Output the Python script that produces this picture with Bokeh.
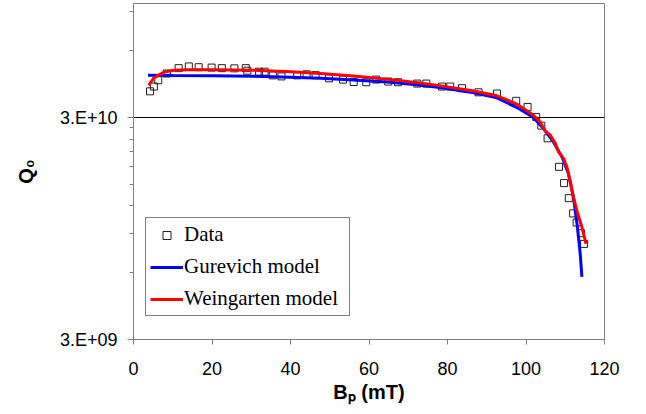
from bokeh.plotting import figure
from bokeh.models import (FixedTicker, CustomJSTickFormatter, Legend,
                          LegendItem, Range1d)
from bokeh.embed import file_html
from bokeh.resources import INLINE

# ---- data (B_p in mT, Q0) ----
bp_data = [4.2, 5.2, 6.3, 8.5, 11.5, 14.1, 16.6, 19.9, 22.5, 25.7, 28.6, 29.0,
           32.0, 33.4, 35.5, 37.7, 41.7, 44.1, 46.4, 49.8, 53.4, 56.1, 59.3,
           61.8, 64.9, 67.4, 72.3, 74.6, 78.6, 80.7, 83.7, 87.9, 92.6, 97.5,
           100.4, 102.6, 103.9, 105.5, 108.4, 109.7, 110.9, 112.0, 112.9,
           114.0, 114.8]
q_data = [3.94e10, 4.14e10, 4.42e10, 4.74e10, 5.01e10, 5.10e10, 5.06e10,
          5.04e10, 5.01e10, 5.00e10, 5.01e10, 4.88e10, 4.83e10, 4.83e10,
          4.65e10, 4.60e10, 4.65e10, 4.70e10, 4.66e10, 4.51e10, 4.45e10,
          4.34e10, 4.33e10, 4.45e10, 4.36e10, 4.33e10, 4.27e10, 4.27e10,
          4.14e10, 4.14e10, 4.07e10, 3.90e10, 3.85e10, 3.57e10, 3.35e10,
          3.02e10, 2.76e10, 2.42e10, 1.80e10, 1.52e10, 1.30e10, 1.11e10,
          1.01e10, 0.904e10, 0.809e10]

bp_gurevich = [3.7, 10, 20, 30.7, 40, 47.7, 56, 64.6, 72, 78, 86.7, 92.6,
               97.7, 101.9, 104.5, 107.0, 109.2, 110.8, 112.1, 113.1, 113.8,
               114.25]
q_gurevich = [4.65e10, 4.64e10, 4.63e10, 4.61e10, 4.56e10, 4.51e10, 4.43e10,
              4.34e10, 4.22e10, 4.10e10, 3.88e10, 3.68e10, 3.33e10, 3.0e10,
              2.67e10, 2.33e10, 1.99e10, 1.68e10, 1.31e10, 0.963e10,
              0.733e10, 0.574e10]

bp_weingarten = [3.9, 5.2, 7.8, 10.3, 13.7, 20, 30.7, 40, 47.7, 56, 64.6, 72,
                 78, 86.7, 92.6, 97.7, 101.9, 103.6, 104.9, 106.2, 107.5,
                 108.3, 109.6, 110.4, 111.3, 112.1, 113.1, 114.25, 115.3]
q_weingarten = [4.19e10, 4.53e10, 4.81e10, 4.90e10, 4.93e10, 4.93e10, 4.90e10,
                4.83e10, 4.74e10, 4.62e10, 4.47e10, 4.32e10, 4.18e10, 3.95e10,
                3.76e10, 3.45e10, 3.07e10, 2.87e10, 2.61e10, 2.50e10, 2.29e10,
                2.10e10, 1.96e10, 1.80e10, 1.54e10, 1.31e10, 1.12e10,
                0.963e10, 0.81e10]

y_major = [3e9, 3e10]
y_minor = [6e9, 9e9, 1.2e10, 1.5e10, 1.8e10, 2.1e10, 2.4e10, 2.7e10, 6e10, 9e10]
x_ticks = [0, 20, 40, 60, 80, 100, 120]

legend_labels = ["Data", "Gurevich model", "Weingarten model"]
x_title = "B\u209a (mT)"
y_title = "Q\u2080"

# ---- figure ----
p = figure(width=640, height=410, x_range=Range1d(0, 120),
           y_range=Range1d(3e9, 9.8e10), y_axis_type="log",
           output_backend="svg", toolbar_location=None,
           min_border_left=133, min_border_right=36, min_border_top=3,
           min_border_bottom=71)
p.outline_line_color = "#808080"
p.outline_line_width = 1
p.background_fill_color = "white"
p.border_fill_color = "white"

p.xgrid.visible = False
p.ygrid.grid_line_color = "black"
p.ygrid.grid_line_width = 1

grey = "#808080"
sans = "Liberation Sans"

p.xaxis.ticker = FixedTicker(ticks=x_ticks)
p.xaxis.axis_line_color = grey
p.xaxis.major_tick_line_color = grey
p.xaxis.major_tick_out = 5
p.xaxis.major_tick_in = 0
p.xaxis.minor_tick_line_color = None
p.xaxis.major_label_text_font = sans
p.xaxis.major_label_text_font_size = "18px"
p.xaxis.major_label_text_color = "black"
p.xaxis.major_label_standoff = 17
p.xaxis.axis_label = x_title
p.xaxis.axis_label_text_font = sans
p.xaxis.axis_label_text_font_style = "bold"
p.xaxis.axis_label_text_font_size = "20px"
p.xaxis.axis_label_text_color = "black"
p.xaxis.axis_label_standoff = 3

p.yaxis.ticker = FixedTicker(ticks=y_major, minor_ticks=y_minor)
p.yaxis.formatter = CustomJSTickFormatter(code="""
const e = Math.floor(Math.log10(tick) + 1e-9);
const m = Math.round(tick / Math.pow(10, e));
return m + '.E+' + (e < 10 ? '0' : '') + e;
""")
p.yaxis.axis_line_color = grey
p.yaxis.major_tick_line_color = grey
p.yaxis.minor_tick_line_color = grey
p.yaxis.major_tick_out = 6
p.yaxis.major_tick_in = 0
p.yaxis.minor_tick_out = 4
p.yaxis.minor_tick_in = 0
p.yaxis.major_label_text_font = sans
p.yaxis.major_label_text_font_size = "18px"
p.yaxis.major_label_text_color = "black"
p.yaxis.major_label_standoff = 10
p.yaxis.axis_label = y_title
p.yaxis.axis_label_text_font = sans
p.yaxis.axis_label_text_font_style = "bold"
p.yaxis.axis_label_text_font_size = "20px"
p.yaxis.axis_label_text_color = "black"
p.yaxis.axis_label_standoff = 20

# ---- renderers ----
r_data = p.scatter(bp_data, q_data, marker="square", size=7,
                   fill_color=None, line_color="#202020", line_width=1)
r_g = p.line(bp_gurevich, q_gurevich, line_color="#0000FF", line_width=3)
r_w = p.line(bp_weingarten, q_weingarten, line_color="#FF0000", line_width=3)

legend = Legend(items=[LegendItem(label=legend_labels[0], renderers=[r_data]),
                       LegendItem(label=legend_labels[1], renderers=[r_g]),
                       LegendItem(label=legend_labels[2], renderers=[r_w])],
                location=(12, 23), margin=0, padding=4, spacing=7,
                glyph_width=33, glyph_height=20, label_height=20,
                label_width=161, label_standoff=1,
                label_text_font="Liberation Serif",
                label_text_font_size="21px", label_text_color="black",
                border_line_color="black", border_line_width=1,
                background_fill_color="white", background_fill_alpha=1.0)
p.add_layout(legend)

open("out.html", "w").write(file_html(p, INLINE))
